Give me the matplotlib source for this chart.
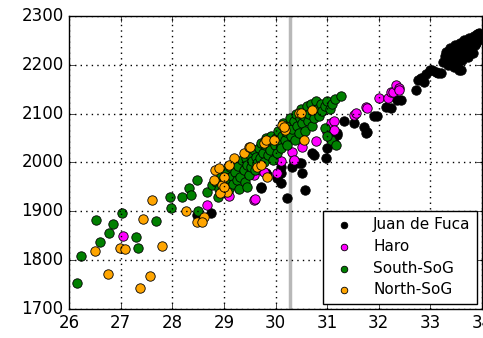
import numpy as np
import matplotlib
matplotlib.use("Agg")
import matplotlib.pyplot as plt

plt.style.use('classic')

# Juan de Fuca
jdf_x = [28.48, 28.74, 29.71, 29.81, 29.84, 30.10, 30.10, 30.23, 30.58, 30.03, 30.10, 30.32,
         30.45, 30.49, 30.52, 30.71, 30.74, 30.97, 31.00, 31.13, 31.07, 31.20, 31.20, 31.33,
         31.52, 31.71, 31.75, 31.78, 31.91, 31.96, 32.14, 32.23, 32.36, 32.43, 32.72, 32.75,
         32.82, 32.87, 32.99, 33.04, 33.14, 33.20, 33.25, 33.30, 33.32, 33.35, 33.38, 33.40,
         33.45, 33.48, 33.50, 33.52, 33.55, 33.58, 33.59, 33.60, 33.62, 33.65, 33.68, 33.70,
         33.72, 33.75, 33.78, 33.80, 33.82, 33.85, 33.88, 33.90, 33.92, 33.95, 33.98, 33.45,
         33.55, 30.36, 29.71, 33.28, 33.42, 33.64, 33.74, 33.86, 33.96, 32.92, 33.10]
jdf_y = [1892, 1896, 1947, 1978, 1974, 1957, 1978, 1927, 1944, 1968, 1991, 1991,
         1999, 1998, 1978, 2019, 2015, 2009, 2029, 2039, 2053, 2056, 2060, 2084,
         2080, 2073, 2061, 2063, 2094, 2095, 2114, 2111, 2128, 2128, 2148, 2169,
         2172, 2165, 2189, 2189, 2183, 2183, 2205, 2227, 2215, 2200, 2235, 2220,
         2210, 2240, 2228, 2200, 2218, 2245, 2189, 2232, 2210, 2250, 2225, 2240,
         2215, 2255, 2235, 2248, 2225, 2258, 2245, 2262, 2250, 2265, 2261, 2195,
         2190, 2002, 1950, 2218, 2232, 2238, 2228, 2240, 2255, 2180, 2186]

# Haro
haro_x = [27.05, 28.67, 29.09, 29.58, 29.60, 29.58, 29.71, 29.77, 30.03, 30.10, 30.32, 30.36,
          30.52, 30.78, 31.00, 31.07, 31.13, 31.13, 31.52, 31.55, 31.75, 31.78, 32.01, 32.17,
          32.23, 32.27, 32.33, 32.40, 32.40]
haro_y = [1850, 1913, 1931, 1923, 1925, 1974, 1985, 1981, 1978, 2002, 2022, 2005,
          2032, 2043, 2063, 2080, 2084, 2067, 2097, 2101, 2113, 2111, 2131, 2131,
          2145, 2145, 2159, 2152, 2148]

# South-SoG
ssog_x = [26.15, 26.23, 26.52, 26.60, 26.78, 26.85, 27.02, 27.30, 27.33, 27.68, 27.96, 27.98,
          28.19, 28.32, 28.36, 28.48, 28.50, 28.67, 28.77,
          28.85, 28.90, 28.95, 29.00, 29.02, 28.88, 29.05, 29.10,
          29.12, 29.15, 29.18, 29.20, 29.22, 29.25, 29.28, 29.30, 29.32, 29.35, 29.38, 29.40,
          29.42, 29.45, 29.45, 29.48, 29.50, 29.52, 29.55, 29.58, 29.60, 29.62, 29.65, 29.68, 29.70,
          29.72, 29.75, 29.78, 29.80, 29.82, 29.85, 29.88, 29.90, 29.92, 29.95, 29.98, 30.00,
          30.02, 30.05, 30.08, 30.10, 30.12, 30.15, 30.18, 30.20, 30.22, 30.25, 30.28, 30.30,
          30.32, 30.35, 30.38, 30.40, 30.42, 30.45, 30.48, 30.50, 30.52, 30.55, 30.58, 30.60,
          30.62, 30.65, 30.68, 30.70, 30.72, 30.75, 30.78, 30.80, 30.85, 30.88, 30.90, 30.95,
          31.00, 31.05, 31.10, 31.15, 31.26, 31.07, 31.17, 30.95, 31.00]
ssog_y = [1754, 1808, 1882, 1838, 1856, 1873, 1897, 1847, 1825, 1880, 1930, 1907,
          1930, 1947, 1933, 1964, 1901, 1940, 1954,
          1960, 1945, 1975, 1958, 1985, 1930, 1968, 1945,
          1990, 1972, 1955, 2000, 1980, 1965, 1992, 1945, 1971, 2005, 1985, 1960,
          2010, 1995, 1950, 1975, 2015, 1990, 2003, 2025, 1985, 2012, 1998, 2030, 2010,
          2040, 2020, 2000, 2035, 2050, 2015, 2040, 2025, 2055, 2005, 2035, 2050,
          2020, 2065, 2040, 2030, 2055, 2080, 2045, 2062, 2035, 2075, 2090, 2055,
          2068, 2085, 2045, 2100, 2075, 2060, 2090, 2110, 2080, 2095, 2065, 2115,
          2085, 2100, 2120, 2075, 2105, 2090, 2125, 2110, 2095, 2120, 2105, 2115,
          2125, 2110, 2120, 2130, 2135, 2046, 2036, 2070, 2055]

# North-SoG
nsog_x = [26.50, 26.75, 26.98, 27.09, 27.37, 27.43, 27.57, 27.60, 27.80, 28.27,
          28.48, 28.61, 28.58, 28.80, 28.83, 28.90, 28.96, 29.00, 29.06, 28.93, 29.00,
          29.38, 29.48, 29.51, 29.64, 29.71, 29.77, 29.81, 29.97, 30.13, 30.19, 30.16,
          30.45, 30.49, 30.55, 30.71, 29.84, 29.20, 29.10]
nsog_y = [1818, 1771, 1825, 1822, 1742, 1884, 1768, 1923, 1829, 1900,
          1878, 1889, 1879, 1964, 1985, 1988, 1954, 1971, 1940, 1937, 1950,
          2019, 2032, 2032, 1990, 1995, 2039, 2046, 2046, 2077, 2066, 2073,
          2101, 2101, 2046, 2108, 1971, 2010, 1995]

vline_x = 30.28

fig = plt.figure(figsize=(4.83, 3.38), dpi=100, facecolor='white')
ax = fig.add_axes([0.143, 0.086, 0.855, 0.867])

ax.axvline(vline_x, color='0.72', lw=2.5, zorder=1)

ms = 46
ax.scatter(jdf_x, jdf_y, s=ms, c='black', edgecolors='k', lw=0.6, label='Juan de Fuca', zorder=2)
ax.scatter(haro_x, haro_y, s=ms, c='magenta', edgecolors='k', lw=0.6, label='Haro', zorder=2)
ax.scatter(ssog_x, ssog_y, s=ms, c='green', edgecolors='k', lw=0.6, label='South-SoG', zorder=2)
ax.scatter(nsog_x, nsog_y, s=ms, c='orange', edgecolors='k', lw=0.6, label='North-SoG', zorder=2)

ax.set_xlim(26, 34)
ax.set_ylim(1700, 2300)
ax.set_xticks(np.arange(26, 35, 1))
ax.set_yticks(np.arange(1700, 2301, 100))
ax.grid(True, color='k', linestyle=':', lw=1)
ax.tick_params(labelsize=12)

leg = ax.legend(loc='lower right', scatterpoints=1, fontsize=11, borderaxespad=0.35,
                markerscale=0.7, labelspacing=0.45, handletextpad=0.9,
                fancybox=False, framealpha=1)
leg.get_frame().set_edgecolor('k')

fig.savefig('out.png', dpi=100, facecolor='white')
